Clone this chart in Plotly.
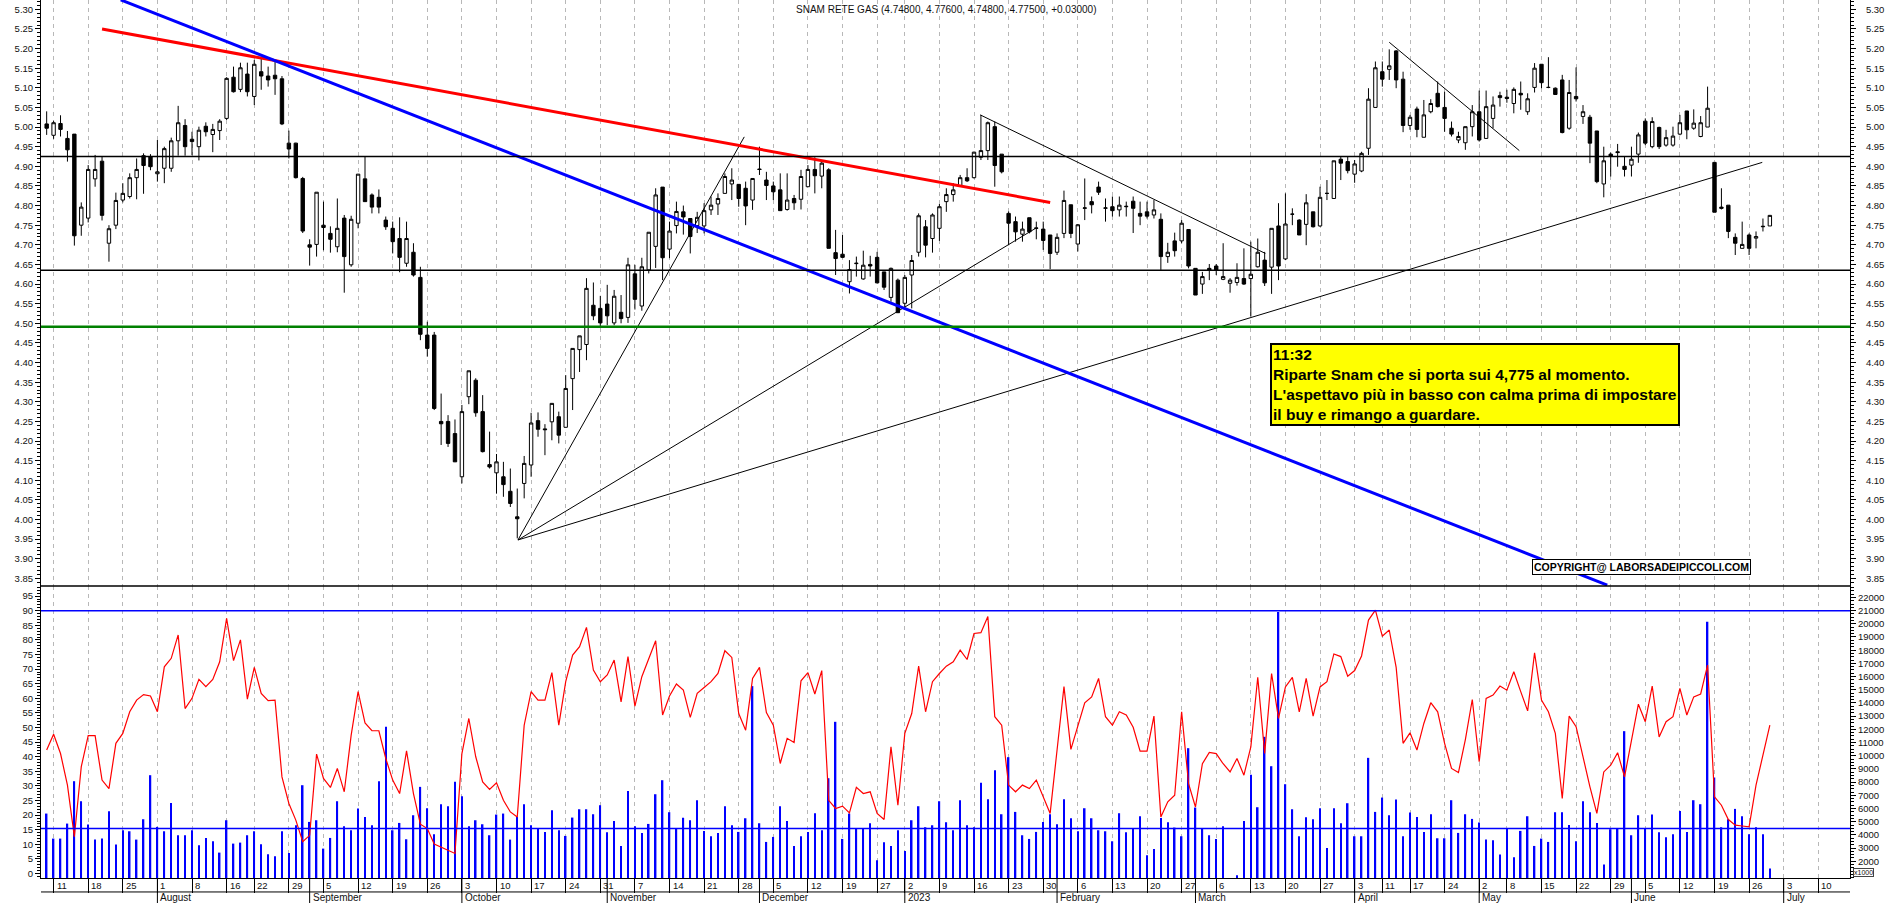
import plotly.graph_objects as go
import pandas as pd

# ---------------- calendar (trading days, Borsa Italiana) ----------------
holidays = ["2022-08-15", "2022-12-26", "2023-04-07", "2023-04-10", "2023-05-01"]
all_days = pd.bdate_range("2022-07-08", "2023-07-14")
all_days = all_days[~all_days.isin(pd.to_datetime(holidays))]
n_days = len(all_days)
month_names = ["2023", "February", "March", "April", "May", "June", "July",
               "August", "September", "October", "November", "December"]

# ---------------- daily OHLC ----------------
opens = [5.008,4.979,5.009,4.971,4.982,4.750,4.768,4.868,4.913,4.704,
4.750,4.814,4.823,4.871,4.927,4.925,4.881,4.895,4.895,4.965,
5.004,4.969,4.950,5.002,4.981,4.991,5.022,5.127,5.096,5.135,
5.078,5.141,5.130,5.132,5.123,4.959,4.959,4.869,4.700,4.701,
4.750,4.729,4.695,4.768,4.649,4.755,4.868,4.827,4.821,4.763,
4.742,4.716,4.653,4.681,4.617,4.470,4.470,4.250,4.250,4.219,
4.109,4.313,4.355,4.275,4.140,4.119,4.109,4.072,4.007,4.092,
4.139,4.252,4.231,4.249,4.262,4.235,4.359,4.433,4.446,4.546,
4.538,4.549,4.501,4.528,4.515,4.626,4.544,4.636,4.696,4.847,
4.689,4.749,4.784,4.767,4.749,4.748,4.789,4.804,4.831,4.855,
4.854,4.844,4.814,4.893,4.865,4.850,4.840,4.790,4.818,4.816,
4.848,4.892,4.875,4.891,4.680,4.676,4.606,4.652,4.613,4.650,
4.668,4.631,4.566,4.610,4.551,4.623,4.681,4.746,4.716,4.742,
4.810,4.828,4.850,4.871,4.871,4.923,4.940,5.001,4.931,4.780,
4.759,4.727,4.769,4.743,4.740,4.725,4.681,4.729,4.802,4.702,
4.793,4.810,4.847,4.793,4.797,4.789,4.797,4.811,4.780,4.784,
4.776,4.765,4.670,4.710,4.710,4.739,4.640,4.600,4.640,4.646,
4.612,4.602,4.604,4.614,4.614,4.644,4.661,4.643,4.748,4.664,
4.778,4.763,4.752,4.784,4.748,4.831,4.818,4.918,4.912,4.880,
4.888,4.946,5.050,5.141,5.147,5.194,5.122,5.004,5.046,4.974,
5.039,5.086,5.050,4.997,4.967,4.960,5.001,5.039,4.971,5.022,
5.080,5.076,5.060,5.086,5.039,5.101,5.160,5.101,5.099,5.120,
4.997,5.078,5.027,5.025,4.990,4.855,4.931,4.937,4.900,4.903,
4.931,5.015,4.950,4.999,4.954,4.954,4.982,5.041,4.997,4.976,
5.000,4.910,4.796,4.801,4.719,4.691,4.725,4.717,4.746,4.748]

highs = [5.040,5.016,5.030,4.990,4.982,4.808,4.903,4.929,4.925,4.750,
4.833,4.857,4.882,4.920,4.933,4.931,4.967,4.950,4.973,5.054,
5.020,4.988,5.001,5.012,5.008,5.020,5.127,5.154,5.164,5.164,
5.171,5.175,5.154,5.171,5.130,4.991,4.960,4.873,4.714,4.834,
4.810,4.747,4.818,4.776,4.774,4.880,4.925,4.831,4.841,4.772,
4.759,4.770,4.759,4.704,4.644,4.504,4.478,4.321,4.266,4.255,
4.292,4.379,4.360,4.317,4.224,4.167,4.147,4.130,4.079,4.162,
4.272,4.273,4.243,4.296,4.275,4.368,4.436,4.468,4.615,4.604,
4.570,4.598,4.585,4.572,4.667,4.649,4.667,4.732,4.844,4.847,
4.759,4.810,4.800,4.767,4.784,4.806,4.823,4.831,4.882,4.895,
4.854,4.861,4.869,4.950,4.886,4.861,4.882,4.882,4.827,4.891,
4.903,4.923,4.912,4.895,4.738,4.725,4.661,4.670,4.685,4.672,
4.682,4.631,4.642,4.614,4.623,4.674,4.780,4.763,4.780,4.804,
4.844,4.857,4.878,4.895,4.937,5.031,5.014,5.014,4.931,4.785,
4.772,4.759,4.769,4.759,4.759,4.725,4.729,4.838,4.802,4.753,
4.869,4.823,4.861,4.818,4.823,4.823,4.810,4.823,4.810,4.810,
4.814,4.780,4.705,4.731,4.763,4.739,4.640,4.631,4.651,4.651,
4.704,4.615,4.653,4.691,4.708,4.716,4.682,4.742,4.806,4.831,
4.793,4.765,4.829,4.784,4.848,4.865,4.914,4.926,4.926,4.916,
4.937,5.099,5.167,5.167,5.198,5.196,5.141,5.031,5.052,5.069,
5.071,5.116,5.090,5.014,4.988,5.001,5.056,5.093,5.093,5.078,
5.090,5.095,5.101,5.116,5.086,5.163,5.160,5.178,5.101,5.133,
5.120,5.152,5.056,5.031,4.990,4.950,4.935,4.957,4.925,4.950,
4.986,5.022,5.025,5.001,4.993,5.001,5.031,5.041,5.045,5.028,
5.103,4.910,4.844,4.801,4.729,4.759,4.729,4.734,4.767,4.776]

lows = [4.980,4.970,4.976,4.912,4.698,4.723,4.757,4.848,4.762,4.657,
4.740,4.808,4.818,4.816,4.830,4.890,4.861,4.857,4.886,4.927,
4.927,4.928,4.915,4.976,4.936,4.967,5.018,5.088,5.089,5.078,
5.056,5.095,5.103,5.082,5.005,4.920,4.869,4.730,4.647,4.670,
4.686,4.680,4.681,4.578,4.644,4.742,4.810,4.780,4.780,4.738,
4.678,4.630,4.644,4.619,4.457,4.415,4.279,4.190,4.185,4.147,
4.092,4.294,4.262,4.171,4.130,4.066,4.058,4.032,3.952,4.054,
4.109,4.211,4.164,4.202,4.194,4.235,4.279,4.376,4.406,4.508,
4.493,4.495,4.495,4.500,4.501,4.535,4.532,4.627,4.641,4.610,
4.666,4.729,4.726,4.678,4.730,4.729,4.776,4.776,4.831,4.814,
4.797,4.750,4.789,4.878,4.814,4.814,4.787,4.787,4.789,4.790,
4.848,4.831,4.844,4.691,4.623,4.666,4.576,4.619,4.611,4.619,
4.602,4.585,4.555,4.527,4.534,4.538,4.670,4.668,4.680,4.710,
4.784,4.810,4.848,4.860,4.869,4.916,4.916,4.848,4.882,4.699,
4.708,4.708,4.729,4.714,4.687,4.638,4.674,4.717,4.717,4.683,
4.763,4.780,4.827,4.759,4.772,4.772,4.772,4.730,4.750,4.767,
4.767,4.636,4.654,4.670,4.704,4.640,4.572,4.575,4.610,4.623,
4.610,4.578,4.596,4.598,4.517,4.642,4.595,4.575,4.610,4.661,
4.750,4.725,4.699,4.744,4.746,4.814,4.817,4.865,4.882,4.858,
4.885,4.929,5.050,5.103,5.120,5.099,4.987,4.993,4.974,4.974,
5.035,5.050,4.988,4.976,4.959,4.942,4.976,4.963,4.971,4.997,
5.052,5.062,5.035,5.044,5.031,5.088,5.099,5.099,5.082,4.984,
4.993,5.065,5.008,4.908,4.857,4.821,4.874,4.899,4.874,4.874,
4.909,4.954,4.946,4.944,4.950,4.950,4.979,4.969,4.993,4.974,
5.000,4.783,4.790,4.717,4.674,4.691,4.674,4.691,4.734,4.748]

closes = [4.997,5.011,4.994,4.942,4.723,4.796,4.892,4.892,4.775,4.741,
4.813,4.831,4.871,4.892,4.902,4.899,4.886,4.945,4.965,5.011,
4.950,4.963,4.992,4.988,4.994,5.015,5.124,5.090,5.151,5.090,
5.160,5.130,5.120,5.123,5.008,4.944,4.871,4.735,4.694,4.834,
4.744,4.714,4.742,4.670,4.765,4.880,4.810,4.796,4.796,4.746,
4.708,4.668,4.716,4.623,4.472,4.436,4.283,4.244,4.194,4.147,
4.275,4.379,4.272,4.173,4.134,4.147,4.089,4.041,4.002,4.143,
4.246,4.230,4.229,4.296,4.215,4.334,4.436,4.468,4.589,4.519,
4.501,4.519,4.569,4.512,4.649,4.561,4.644,4.732,4.827,4.667,
4.735,4.785,4.771,4.721,4.770,4.787,4.801,4.818,4.874,4.865,
4.818,4.799,4.869,4.892,4.851,4.835,4.787,4.814,4.807,4.874,
4.892,4.876,4.908,4.691,4.665,4.668,4.637,4.653,4.648,4.646,
4.603,4.592,4.640,4.527,4.617,4.660,4.774,4.699,4.776,4.797,
4.828,4.840,4.871,4.863,4.936,4.940,5.011,4.902,4.886,4.755,
4.733,4.740,4.733,4.742,4.711,4.678,4.719,4.813,4.729,4.751,
4.794,4.802,4.834,4.794,4.787,4.801,4.798,4.793,4.773,4.773,
4.789,4.670,4.681,4.685,4.755,4.646,4.572,4.619,4.636,4.636,
4.619,4.610,4.617,4.600,4.625,4.681,4.603,4.742,4.646,4.753,
4.778,4.725,4.807,4.746,4.821,4.831,4.914,4.908,4.889,4.906,
4.933,5.071,5.151,5.122,5.156,5.120,5.004,5.025,4.994,5.031,
5.060,5.052,5.022,4.982,4.976,5.001,5.039,4.967,5.052,5.056,
5.075,5.073,5.096,5.082,5.072,5.150,5.113,5.101,5.083,4.986,
5.088,5.072,5.039,4.959,4.861,4.914,4.926,4.935,4.892,4.918,
4.980,4.959,5.014,4.950,4.973,4.977,5.011,4.993,5.010,5.011,
5.048,4.783,4.793,4.734,4.704,4.701,4.691,4.721,4.747,4.775]

# ---------------- oscillator (left scale, lower panel) ----------------
osc = [42.3,47.7,41.1,30.3,12.6,36.6,47.2,47.2,32.0,29.1,
44.6,48.0,55.4,59.4,61.3,60.8,55.4,70.8,73.7,81.7,
56.5,60.0,66.5,64.0,66.5,72.5,87.4,72.9,80.0,59.7,
70.6,61.7,59.2,59.4,33.1,24.0,18.3,10.9,13.1,40.9,
32.6,29.5,36.0,28.0,47.4,62.3,51.6,48.9,48.9,39.4,
32.0,27.4,42.0,27.4,16.9,15.4,10.1,9.1,8.0,6.9,
41.1,53.1,40.0,31.4,28.8,31.1,25.1,21.1,19.4,50.8,
62.3,59.4,59.4,68.8,50.8,65.7,74.8,77.7,84.3,69.7,
65.7,68.0,73.1,58.8,74.3,57.3,67.4,73.7,79.7,54.3,
60.8,64.9,62.8,53.5,61.7,63.7,65.7,68.5,76.3,74.0,
54.8,49.1,66.8,70.6,55.1,50.8,37.7,46.3,44.9,66.0,
68.8,61.5,69.5,25.1,22.3,23.1,20.8,29.5,27.4,28.0,
20.6,18.5,43.4,23.4,48.0,54.8,71.0,55.4,65.7,68.5,
71.0,72.5,76.5,73.3,82.2,82.5,88.0,53.7,50.8,30.3,
28.0,30.3,29.1,32.0,26.3,20.6,42.3,64.0,42.5,50.8,
58.5,60.5,66.8,53.7,50.8,55.4,54.3,50.1,41.9,41.9,
53.9,19.4,24.6,26.8,55.4,30.8,22.8,37.6,41.5,41.1,
37.6,34.8,39.4,33.7,43.4,67.2,41.1,68.5,53.1,63.9,
67.2,55.4,66.8,53.9,63.9,65.7,75.2,74.3,67.6,69.5,
74.5,86.8,90.2,81.3,83.4,70.6,44.6,48.2,42.3,51.4,
58.5,55.4,44.6,36.0,34.6,45.9,59.6,38.3,60.0,61.1,
64.2,62.8,69.1,62.3,55.7,75.6,59.4,55.4,48.0,25.7,
53.9,50.3,40.0,29.7,20.6,34.8,37.1,41.4,33.1,45.7,
58.0,52.0,64.2,46.8,52.0,53.7,63.4,54.3,60.5,61.5,
71.4,26.3,23.4,18.5,16.6,16.3,16.0,30.3,41.1,50.8]

# ---------------- volume (right scale, x1000) ----------------
volume = [5617,3720,3720,4858,8070,6552,4782,3644,3720,5794,
3265,4352,4276,3644,5187,8525,4605,4276,6426,3973,
3973,4352,3214,3770,3517,2658,5111,3340,3416,3973,
4276,3290,2531,2379,4276,2632,4731,7766,4984,5111,
2961,3770,6552,4655,4352,5996,5364,4731,8070,12192,
4352,4908,3669,5490,7640,6021,4048,6325,6173,8019,
6932,4655,5111,4807,3973,5541,5617,3644,5364,6325,
4731,4478,4226,5869,4352,3922,5313,5945,5945,5566,
6249,4200,5060,3163,7336,4655,4150,4832,7083,8145,
5718,4478,5300,5111,6628,4302,3897,4150,6173,4731,
4226,5262,15277,4883,3467,3846,6173,5060,3163,3897,
4226,5642,4352,8297,12571,3694,5617,4504,4504,4883,
2076,3442,3163,4352,2784,5111,6173,4580,4731,6552,
4959,4352,6628,4731,4580,7943,6704,8904,5566,9890,
5743,3973,3694,4226,4984,5566,4807,6704,5262,4276,
6021,5262,4352,4276,3517,5642,4200,4527,5414,2455,
2935,5288,4959,4554,3897,10573,6072,4453,3973,3695,
4655,0,938,5060,8550,6097,11433,9208,20892,7842,
5945,3897,5338,5187,6021,3011,6021,4883,6401,3897,
3897,9840,5743,6830,5490,6679,3897,5692,5364,4226,
5566,3745,3745,6628,4150,5566,5212,4934,3644,3593,
2506,4478,2303,4302,5414,3163,3720,3467,5718,5718,
4757,3517,6552,5718,4908,1747,4428,4478,11863,3973,
5490,4478,5541,4200,3821,4048,5819,4226,6628,6325,
20158,8348,4580,5187,5971,5414,4048,4580,4048,1444]

# ---------------- levels and drawn trendlines (x = trading-day index) ----------------
price_levels = [4.925, 4.635]
support_level = 4.491
osc_levels = [90.0, 15.4]
red_trend_x, red_trend_y = [8.0, 145.0], [5.250, 4.808]
blue_trend_x, blue_trend_y = [10.7, 225.5], [5.324, 3.833]
fan_a_x, fan_a_y = [68.1, 100.8], [3.948, 4.975]
fan_b_x, fan_b_y = [68.1, 142.9], [3.948, 4.742]
fan_c_x, fan_c_y = [68.1, 247.9], [3.948, 4.910]
jan_down_x, jan_down_y = [134.9, 176.1], [5.031, 4.678]
apr_down_x, apr_down_y = [194.0, 212.8], [5.216, 4.940]

title_text = "SNAM RETE GAS (4.74800, 4.77600, 4.74800, 4.77500, +0.03000)"
note_lines = ["11:32",
              "Riparte Snam che si porta sui 4,775 al momento.",
              "L'aspettavo più in basso con calma prima di impostare",
              "il buy e rimango a guardare."]
copyright_text = "COPYRIGHT@ LABORSADEIPICCOLI.COM"

idx = list(range(len(opens)))
week_idx = [i for i in range(1, n_days)
            if all_days[i].isocalendar()[1] != all_days[i - 1].isocalendar()[1]]
month_idx = [i for i in range(1, n_days) if all_days[i].month != all_days[i - 1].month]

FONT = "Liberation Sans, Arial, sans-serif"
split = 1 - 586.0 / 878.0
price_range = [3.8307, 5.3237]

fig = go.Figure()
fig.add_trace(go.Bar(x=idx, y=volume, width=0.22, yaxis="y3",
                     marker=dict(color="#0000ff", line=dict(width=0)), hoverinfo="skip"))
fig.add_trace(go.Scatter(x=idx, y=osc, mode="lines", yaxis="y4",
                         line=dict(color="#ff0000", width=1.2), hoverinfo="skip"))
fig.add_trace(go.Candlestick(x=idx, open=opens, high=highs, low=lows, close=closes,
                             increasing=dict(line=dict(color="black", width=1), fillcolor="white"),
                             decreasing=dict(line=dict(color="black", width=1), fillcolor="black"),
                             whiskerwidth=0, yaxis="y", hoverinfo="skip"))
for tx, ty, col, w in [(fan_a_x, fan_a_y, "black", 1), (fan_b_x, fan_b_y, "black", 1),
                       (fan_c_x, fan_c_y, "black", 1), (jan_down_x, jan_down_y, "black", 1),
                       (apr_down_x, apr_down_y, "black", 1),
                       (red_trend_x, red_trend_y, "#ff0000", 3),
                       (blue_trend_x, blue_trend_y, "#0000ff", 3)]:
    fig.add_trace(go.Scatter(x=tx, y=ty, mode="lines", yaxis="y",
                             line=dict(color=col, width=w), hoverinfo="skip"))
fig.add_trace(go.Scatter(x=[idx[0]], y=[closes[0]], mode="markers", yaxis="y2",
                         marker=dict(opacity=0), hoverinfo="skip"))

tickfont = dict(family=FONT, size=9.5, color="#111")
common_y = dict(showgrid=False, zeroline=False, showline=True, linecolor="black", linewidth=1,
                ticks="outside", ticklen=5, tickcolor="black", tickfont=tickfont, fixedrange=True)
price_ticks = [round(3.85 + 0.05 * k, 2) for k in range(30)]
vol_ticks = list(range(2000, 22001, 1000))

fig.update_layout(
    width=1890, height=903, margin=dict(l=41, r=40, t=0, b=25),
    paper_bgcolor="white", plot_bgcolor="white", showlegend=False, boxgap=0.3,
    font=dict(family=FONT, size=10, color="#111"),
    xaxis=dict(range=[-0.82, 260.58], tickmode="array", tickvals=week_idx, showticklabels=False,
               ticks="outside", ticklen=14, tickcolor="black", tickwidth=1,
               showgrid=True, gridcolor="#b8b8b8", griddash="4px,4px", gridwidth=1,
               showline=True, linecolor="black", linewidth=1, zeroline=False,
               rangeslider=dict(visible=False), anchor="y3", fixedrange=True),
    yaxis=dict(domain=[split, 1], range=price_range, anchor="x", side="left",
               tickmode="array", tickvals=price_ticks, ticktext=[f"{v:.2f}" for v in price_ticks],
               minor=dict(ticks="outside", ticklen=3, dtick=0.01, tick0=3.85, tickcolor="black"),
               **common_y),
    yaxis2=dict(overlaying="y", range=price_range, anchor="x", side="right",
                tickmode="array", tickvals=price_ticks, ticktext=[f"{v:.2f}" for v in price_ticks],
                minor=dict(ticks="outside", ticklen=3, dtick=0.01, tick0=3.85, tickcolor="black"),
                ticklabelstandoff=8, **common_y),
    yaxis3=dict(domain=[0, split], range=[733, 22865], anchor="x", side="right",
                tickmode="array", tickvals=vol_ticks, ticktext=[str(v) for v in vol_ticks],
                minor=dict(ticks="outside", ticklen=3, dtick=250, tick0=0, tickcolor="black"),
                **common_y),
    yaxis4=dict(overlaying="y3", range=[-1.51, 98.46], anchor="x", side="left",
                tickmode="array", tickvals=list(range(0, 96, 5)),
                minor=dict(ticks="outside", ticklen=3, dtick=1, tick0=0, tickcolor="black"),
                **common_y),
)

shapes = []
for lv in price_levels:
    shapes.append(dict(type="line", xref="paper", x0=0, x1=1, yref="y", y0=lv, y1=lv,
                       line=dict(color="black", width=1.5)))
shapes.append(dict(type="line", xref="paper", x0=0, x1=1, yref="y", y0=support_level, y1=support_level,
                   line=dict(color="#008000", width=2.5)))
for lv in osc_levels:
    shapes.append(dict(type="line", xref="paper", x0=0, x1=1, yref="y4", y0=lv, y1=lv,
                       line=dict(color="#0000ff", width=1.5)))
shapes.append(dict(type="line", xref="paper", x0=0, x1=1, yref="paper", y0=split, y1=split,
                   line=dict(color="black", width=1.5)))
shapes.append(dict(type="line", xref="paper", x0=0, x1=1, yref="paper", y0=-0.0159, y1=-0.0159,
                   line=dict(color="black", width=1)))
for m in month_idx:
    shapes.append(dict(type="line", xref="x", x0=m, x1=m, yref="paper", y0=0, y1=-0.03,
                       line=dict(color="black", width=1)))
fig.update_layout(shapes=shapes)

ann = []
for w in week_idx:
    ann.append(dict(x=w, y=-0.008, xref="x", yref="paper", text=str(all_days[w].day),
                    xanchor="left", yanchor="middle", xshift=1, showarrow=False,
                    font=dict(family=FONT, size=9.5, color="#111")))
for m in month_idx:
    ann.append(dict(x=m, y=-0.0225, xref="x", yref="paper", text=month_names[all_days[m].month - 1],
                    xanchor="left", yanchor="middle", xshift=1, showarrow=False,
                    font=dict(family=FONT, size=10, color="#111")))
ann.append(dict(x=0.5, y=0.9892, xref="paper", yref="paper", text=title_text, showarrow=False,
                xanchor="center", yanchor="middle", font=dict(family=FONT, size=10, color="#111")))
ann.append(dict(x=0.6792, y=0.609, xref="paper", yref="paper",
                text="<br>".join("<b>" + s + "</b>" for s in note_lines),
                showarrow=False, xanchor="left", yanchor="top", align="left",
                bgcolor="#ffff00", bordercolor="black", borderwidth=2, borderpad=1,
                font=dict(family=FONT, size=15.5, color="black")))
ann.append(dict(x=0.8845, y=0.3546, xref="paper", yref="paper", text="<b>" + copyright_text + "</b>",
                showarrow=False, xanchor="center", yanchor="middle",
                bgcolor="white", bordercolor="black", borderwidth=1, borderpad=1,
                font=dict(family=FONT, size=10.5, color="black")))
ann.append(dict(x=1.0072, y=0.0063, xref="paper", yref="paper", text="x1000", showarrow=False,
                xanchor="center", yanchor="middle", bordercolor="#444", borderwidth=1, borderpad=0,
                font=dict(family=FONT, size=7, color="#111")))
fig.update_layout(annotations=ann)

fig.write_html("out.html", config={"displayModeBar": False},
               post_script="document.body.style.margin='0px';document.body.style.overflow='hidden';")
